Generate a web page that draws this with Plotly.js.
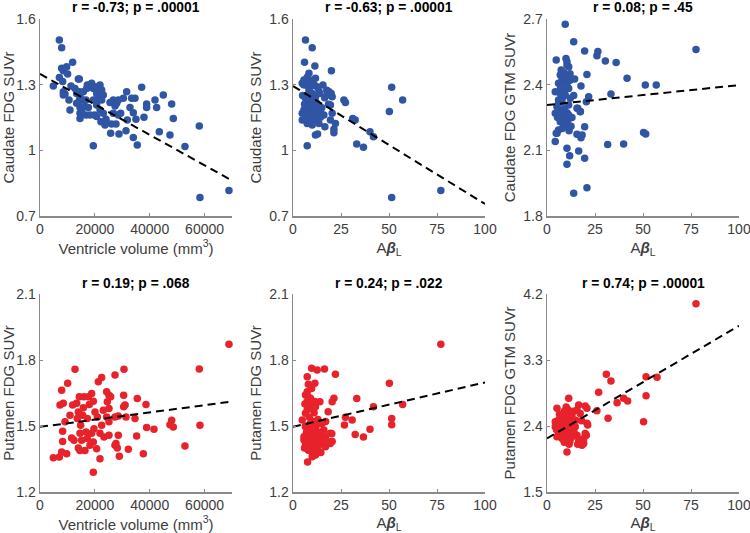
<!DOCTYPE html>
<html>
<head>
<meta charset="utf-8">
<script src="https://cdn.plot.ly/plotly-3.0.1.min.js"></script>
<style>html,body{margin:0;padding:0;background:#fff;}#chart{width:750px;height:533px;}</style>
</head>
<body>
<div id="chart"></div>
<script>
// ---------- DATA ----------
var titles = ["r = -0.73; p = .00001", "r = -0.63; p = .00001", "r = 0.08; p = .45",
              "r = 0.19; p = .068", "r = 0.24; p = .022", "r = 0.74; p = .00001"];
var yTitles = ["Caudate FDG SUVr", "Caudate FDG SUVr", "Caudate FDG GTM SUVr",
               "Putamen FDG SUVr", "Putamen FDG SUVr", "Putamen FDG GTM SUVr"];
var xTitleVent = "Ventricle volume (mm<sup>3</sup>)";
var xTitleAb = "A<b><i>β</i></b><sub>L</sub>";

var ventTicks = [0, 20000, 40000, 60000];
var abTicks = [0, 25, 50, 75, 100];
var yTicks1 = [0.7, 1, 1.3, 1.6];
var yTicks3 = [1.8, 2.1, 2.4, 2.7];
var yTicks4 = [1.2, 1.5, 1.8, 2.1];
var yTicks6 = [1.5, 2.4, 3.3, 4.2];

// Panel 1: ventricle volume vs caudate FDG SUVr
var p1x = [7050,7900,4860,7050,7900,8500,9720,11900,10080,8260,8500,9110,8500,10570,10930,11300,12760,13370,13970,14340,
  13370,14580,14340,15550,14340,15800,14580,15190,14580,14580,16400,16770,17010,17250,16770,17620,18830,19440,20050,20660,
  21870,20660,19440,19800,18230,20660,21870,22480,23080,21260,22230,20660,19440,22480,23080,23690,24060,26120,24300,25760,
  26730,27340,27950,28550,25520,26730,28550,27700,28800,29400,31350,31590,31830,32800,33410,34630,30380,34020,34990,34020,
  37060,35470,38880,37910,38880,41920,42530,44960,43500,48000,48600,47385,52850,58080,58320,68890];
var p1y = [1.504,1.469,1.294,1.333,1.375,1.364,1.382,1.402,1.349,1.314,1.268,1.257,1.253,1.230,1.184,1.294,1.283,1.260,1.326,1.326,
  1.215,1.196,1.227,1.230,1.268,1.268,1.245,1.184,1.169,1.146,1.200,1.230,1.283,1.298,1.161,1.196,1.306,1.283,1.291,1.260,
  1.298,1.288,1.230,1.161,1.161,1.207,1.184,1.276,1.253,1.238,1.131,1.154,1.021,1.230,1.169,1.116,1.142,1.120,1.126,1.078,
  1.230,1.202,1.215,1.161,1.218,1.169,1.230,1.120,1.075,1.169,1.090,1.268,1.139,1.196,1.238,1.238,1.238,1.172,1.142,1.059,
  1.288,1.024,1.212,1.151,1.196,1.230,1.196,1.253,1.085,1.212,1.146,1.070,1.017,1.111,0.785,0.816];
var fit1x = [0, 70000];
var fit1y = [1.349, 0.862];

// Panel 2: Abeta_L vs caudate FDG SUVr
var p2x = [6.5,10.0,6.0,11.4,20.0,8.3,11.7,15.6,17.6,18.8,19.9,20.4,26.5,27.3,19.5,20.4,19.5,22.1,16.6,21.3,
  21.3,11.7,12.8,7.4,31.1,32.4,33.2,36.7,40.1,41.9,50.2,51.4,57.1,51.4,77.0,
  7.4,5.7,4.8,6.5,10.0,9.1,8.3,10.0,11.7,7.4,6.5,5.7,4.8,8.3,10.0,12.6,14.3,16.1,4.8,6.5,
  9.1,10.9,12.6,14.3,7.4,10.0,13.5,8.3,17.8,
  8.0,9.5,11.0,12.5,13.5,9.0,10.5,12.0,8.0,6.0,9.5,11.5,13.5,7.0,15.0,10.0,8.0,12.0,6.0,11.0,
  9.0,14.0,16.5,18.5,5.5,5.0];
var p2y = [1.504,1.469,1.402,1.385,1.364,1.352,1.329,1.298,1.275,1.268,1.260,1.245,1.230,1.218,1.207,1.169,1.139,1.123,1.108,1.096,
  1.080,1.070,1.075,1.021,1.146,1.139,1.029,1.014,1.085,1.062,1.177,1.288,1.230,0.785,0.816,
  1.334,1.321,1.306,1.298,1.306,1.291,1.276,1.260,1.245,1.253,1.238,1.184,1.169,1.192,1.184,1.184,1.176,1.161,1.139,1.146,
  1.154,1.151,1.157,1.151,1.123,1.116,1.123,1.139,1.253,
  1.315,1.320,1.300,1.290,1.270,1.250,1.235,1.220,1.220,1.210,1.205,1.200,1.205,1.195,1.195,1.170,1.165,1.165,1.160,1.135,
  1.125,1.260,1.240,1.210,1.300,1.250];
var fit2x = [0, 100];
var fit2y = [1.294, 0.755];

// Panel 3: Abeta_L vs caudate FDG GTM SUVr
var p3x = [9.5,13.9,19.6,26.5,26.0,30.4,36.0,77.6,4.8,9.9,10.4,11.3,20.8,14.4,17.7,21.7,13.9,33.3,6.0,19.6,
  15.6,17.7,18.3,4.3,31.6,39.9,10.4,16.5,11.8,19.6,10.4,13.9,20.8,41.7,50.3,51.4,51.2,56.9,20.5,16.0,
  17.4,5.2,
  7.4,8.7,6.9,9.5,7.8,6.0,8.7,10.4,11.3,4.3,6.9,9.5,4.3,6.0,8.7,10.4,7.4,9.5,11.3,6.9,
  9.5,10.4,8.7,6.0,4.8,15.6,17.3,10.4,12.1,6.0,7.8,11.3,5.2,
  12.0,8.0,9.0,11.0,12.5,7.0,9.0,10.0,12.0,5.5,8.0,11.5,13.0];
var p3y = [2.676,2.596,2.554,2.551,2.532,2.508,2.501,2.561,2.513,2.520,2.505,2.482,2.447,2.426,2.394,2.345,2.350,2.357,2.315,2.208,
  2.173,2.158,2.170,2.140,2.127,2.129,2.109,2.097,2.075,2.064,2.036,1.904,1.929,2.429,2.181,2.175,2.398,2.398,2.322,2.292,
  2.277,2.178,
  2.467,2.456,2.444,2.436,2.421,2.406,2.406,2.398,2.383,2.368,2.360,2.353,2.269,2.284,2.276,2.272,2.254,2.246,2.261,2.231,
  2.231,2.216,2.208,2.193,2.178,2.292,2.276,2.490,2.338,2.330,2.322,2.307,2.299,
  2.420,2.340,2.290,2.240,2.210,2.380,2.370,2.430,2.450,2.250,2.200,2.190,2.250];
var fit3x = [0, 100];
var fit3y = [2.307, 2.398];

// Panel 4: ventricle volume vs putamen FDG SUVr
var p4x = [4860,7050,7900,7290,7900,8500,8260,9110,8260,9720,10080,10930,12760,11900,11540,12400,13370,13970,13610,14340,
  14580,13970,14580,15190,14820,15550,15800,16040,16400,16770,17250,17620,17980,17250,18830,18230,19440,19680,20660,20900,
  18830,19440,21260,20050,21870,22480,23330,23080,22480,19440,21870,24300,24540,25150,24300,25150,27340,25760,25150,27340,
  25150,27340,28190,27700,28550,31020,31350,28550,28920,30500,30500,30620,32200,34630,35230,35470,37670,38640,38880,41550,
  48000,47385,48600,52850,58080,58320,68890];
var p4y = [1.356,1.359,1.382,1.595,1.663,1.603,1.476,1.519,1.430,1.374,1.694,1.549,1.758,1.595,1.446,1.435,1.603,1.564,1.534,1.633,
  1.467,1.400,1.389,1.435,1.503,1.549,1.583,1.633,1.389,1.473,1.534,1.633,1.598,1.443,1.467,1.412,1.427,1.488,1.397,1.541,
  1.648,1.613,1.701,1.564,1.467,1.503,1.450,1.572,1.720,1.290,1.351,1.656,1.610,1.640,1.541,1.519,1.732,1.633,1.580,1.541,
  1.458,1.412,1.400,1.420,1.546,1.595,1.541,1.458,1.363,1.640,1.587,1.758,1.394,1.534,1.455,1.625,1.374,1.598,1.493,1.485,
  1.526,1.506,1.496,1.409,1.759,1.503,1.872];
var fit4x = [0, 70000];
var fit4y = [1.496, 1.611];

// Panel 5: Abeta_L vs putamen FDG SUVr
var p5x = [7.6,9.7,12.6,16.4,22.1,7.4,11.4,9.7,21.3,20.4,18.3,27.3,26.8,30.8,4.8,33.2,50.2,77.0,57.1,41.9,
  51.4,51.4,40.1,32.4,36.7,20.2,19.4,14.5,11.7,
  7.4,6.5,7.9,9.1,7.4,6.2,9.1,11.4,11.7,10.0,7.4,6.5,6.5,9.1,7.9,10.0,11.7,5.7,8.3,10.9,
  12.6,14.3,16.1,16.9,19.5,18.7,20.4,15.2,13.5,10.9,9.1,6.5,16.9,5.7,
  8.5,10.5,12.0,9.0,7.0,11.0,13.0,8.0,10.0,6.0,13.0,15.0,17.0,14.0,8.0,9.0,12.0,7.5,10.0,14.5,6.5,11.0];
var p5y = [1.336,1.762,1.755,1.759,1.735,1.724,1.694,1.671,1.626,1.610,1.565,1.540,1.505,1.527,1.527,1.625,1.694,1.872,1.598,1.587,
  1.534,1.506,1.485,1.461,1.450,1.465,1.420,1.473,1.368,
  1.656,1.641,1.633,1.626,1.611,1.600,1.600,1.611,1.588,1.580,1.573,1.558,1.497,1.505,1.482,1.474,1.482,1.451,1.451,1.451,
  1.444,1.451,1.482,1.451,1.467,1.429,1.429,1.429,1.414,1.406,1.421,1.414,1.406,1.436,
  1.540,1.520,1.500,1.460,1.470,1.430,1.390,1.390,1.380,1.400,1.530,1.510,1.520,1.610,1.690,1.510,1.470,1.430,1.360,1.380,1.500,1.560];
var fit5x = [0, 100];
var fit5y = [1.496, 1.698];

// Panel 6: Abeta_L vs putamen FDG GTM SUVr
var p6x = [77.6,30.9,33.3,51.6,57.3,26.9,51.6,39.9,42.0,36.5,11.3,26.0,31.8,50.3,20.8,19.9,21.2,5.2,10.4,20.5,
  19.1,
  16.5,15.6,17.3,9.5,11.3,13.0,10.4,7.8,6.0,4.3,8.7,11.3,13.9,6.9,4.3,9.5,12.1,14.7,6.0,8.7,
  11.3,5.2,7.8,10.4,13.0,15.6,16.5,17.3,19.1,18.2,19.9,20.8,
  7.0,9.0,12.0,8.0,10.0,6.0,9.0,12.0,14.0,7.0,5.0,11.0,13.0,8.0,16.0,
  9.5,10.5,6.5,12.5,15.0,17.5,14.0,9.0,11.5,7.5,10.0,18.0];
var p6y = [4.068,3.105,3.014,3.073,3.064,2.859,2.813,2.777,2.740,2.718,2.778,2.608,2.504,2.458,2.641,2.672,2.412,2.641,2.047,2.275,
  2.230,
  2.686,2.617,2.572,2.572,2.549,2.535,2.504,2.504,2.481,2.458,2.458,2.436,2.458,2.412,2.389,2.389,2.367,2.389,2.321,2.299,
  2.299,2.252,2.230,2.207,2.252,2.275,2.207,2.162,2.162,2.139,2.299,2.436,
  2.530,2.600,2.470,2.360,2.340,2.280,2.180,2.200,2.320,2.430,2.350,2.620,2.400,2.270,2.150,
  2.450,2.520,2.560,2.290,2.480,2.190,2.600,2.260,2.150,2.320,2.660,2.470];
var fit6x = [0, 100];
var fit6y = [2.230, 3.767];

// ---------- BUILD ----------
var blue = "#2f55a4", red = "#e8222b";
var panels = [
  {x: p1x, y: p1y, fx: fit1x, fy: fit1y, c: blue, xr: [0, 70000], xt: ventTicks, yr: [0.7, 1.6], yt: yTicks1, xtitle: xTitleVent},
  {x: p2x, y: p2y, fx: fit2x, fy: fit2y, c: blue, xr: [0, 100], xt: abTicks, yr: [0.7, 1.6], yt: yTicks1, xtitle: xTitleAb},
  {x: p3x, y: p3y, fx: fit3x, fy: fit3y, c: blue, xr: [0, 100], xt: abTicks, yr: [1.8, 2.7], yt: yTicks3, xtitle: xTitleAb},
  {x: p4x, y: p4y, fx: fit4x, fy: fit4y, c: red, xr: [0, 70000], xt: ventTicks, yr: [1.2, 2.1], yt: yTicks4, xtitle: xTitleVent},
  {x: p5x, y: p5y, fx: fit5x, fy: fit5y, c: red, xr: [0, 100], xt: abTicks, yr: [1.2, 2.1], yt: yTicks4, xtitle: xTitleAb},
  {x: p6x, y: p6y, fx: fit6x, fy: fit6y, c: red, xr: [0, 100], xt: abTicks, yr: [1.5, 4.2], yt: yTicks6, xtitle: xTitleAb}
];
var xDomains = [[40/750, 232/750], [293/750, 485/750], [547/750, 739/750]];
var yDomains = [[1 - 216/533, 1 - 19/533], [1 - 492/533, 1 - 294/533]];
var titleY = [1 - 7/533, 1 - 283/533];

var FONT = "Liberation Sans, Arial, Helvetica, sans-serif";
var axisGrey = "#8a8a8a", textGrey = "#3d3d3d";
var data = [];
var layout = {
  width: 750, height: 533, margin: {l: 0, r: 0, t: 0, b: 0},
  paper_bgcolor: "#fff", plot_bgcolor: "#fff", showlegend: false,
  font: {family: FONT, color: textGrey},
  annotations: []
};

panels.forEach(function (p, i) {
  var n = i + 1, col = i % 3, row = Math.floor(i / 3);
  var xa = "x" + (n === 1 ? "" : n), ya = "y" + (n === 1 ? "" : n);
  data.push({x: p.x, y: p.y, xaxis: xa, yaxis: ya, type: "scatter", mode: "markers",
    marker: {color: p.c, size: 7.5, line: {width: 0}}, cliponaxis: false, hoverinfo: "skip"});
  data.push({x: p.fx, y: p.fy, xaxis: xa, yaxis: ya, type: "scatter", mode: "lines",
    line: {color: "#000", width: 2, dash: "8px,5px"}, hoverinfo: "skip"});
  var xKey = "xaxis" + (n === 1 ? "" : n), yKey = "yaxis" + (n === 1 ? "" : n);
  layout[xKey] = {
    domain: xDomains[col], anchor: ya, range: p.xr, tickvals: p.xt, tickformat: "d",
    showgrid: false, zeroline: false, showline: true, linecolor: axisGrey, linewidth: 1.5,
    ticks: "inside", ticklen: 3, tickcolor: axisGrey, tickwidth: 1,
    ticklabeloverflow: "allow",
    tickfont: {size: 14, color: textGrey, family: FONT},
    title: {text: p.xtitle, font: {size: 15, color: textGrey, family: FONT}, standoff: 6},
    fixedrange: true
  };
  layout[yKey] = {
    domain: yDomains[row], anchor: xa, range: p.yr, tickvals: p.yt,
    showgrid: false, zeroline: false, showline: true, linecolor: axisGrey, linewidth: 1.5,
    ticks: "inside", ticklen: 3, tickcolor: axisGrey, tickwidth: 1,
    ticklabeloverflow: "allow",
    tickfont: {size: 14, color: textGrey, family: FONT},
    title: {text: yTitles[i], font: {size: 15, color: textGrey, family: FONT}, standoff: 4},
    fixedrange: true
  };
  layout.annotations.push({
    text: "<b>" + titles[i] + "</b>", xref: "paper", yref: "paper",
    x: (xDomains[col][0] + xDomains[col][1]) / 2, y: titleY[row],
    xanchor: "center", yanchor: "middle", showarrow: false,
    font: {size: 13.8, color: "#000", family: FONT}
  });
});

Plotly.newPlot("chart", data, layout, {staticPlot: true, displayModeBar: false});
</script>
</body>
</html>
